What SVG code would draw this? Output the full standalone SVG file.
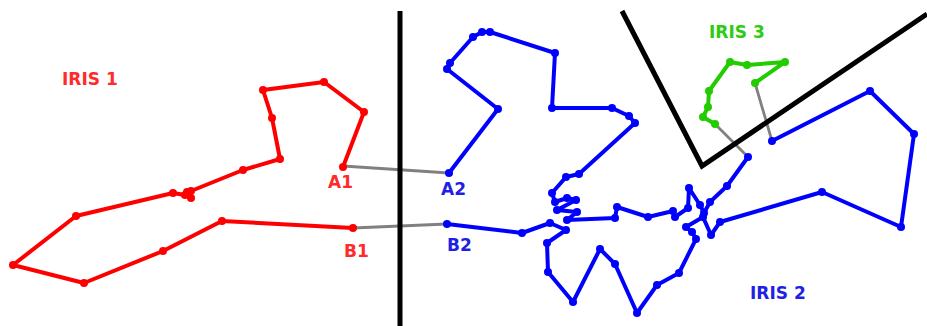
<svg xmlns="http://www.w3.org/2000/svg" width="927" height="326" viewBox="0 0 927 326">
<style>
.bg{fill:#ffffff}
.wall{fill:none;stroke:#000;stroke-width:5;stroke-linejoin:miter}
.red{fill:none;stroke:#ff0000;stroke-width:4;stroke-linejoin:round;stroke-linecap:round}
.blue{fill:none;stroke:#0000ff;stroke-width:4;stroke-linejoin:round;stroke-linecap:round}
.green{fill:none;stroke:#22cc00;stroke-width:4;stroke-linejoin:round;stroke-linecap:round}
.link{fill:none;stroke:#808080;stroke-width:2.8;stroke-linecap:round}
text{font-family:"DejaVu Sans",Verdana,sans-serif;font-weight:bold;font-size:17px}
.tr{fill:#ff2a2a}
.tb{fill:#1f1fe6}
.tg{fill:#2ccc10}
</style>
<defs>
<marker id="dr" markerUnits="userSpaceOnUse" markerWidth="10" markerHeight="10" refX="5" refY="5"><circle cx="5" cy="5" r="4" fill="#ff0000"/></marker>
<marker id="db" markerUnits="userSpaceOnUse" markerWidth="10" markerHeight="10" refX="5" refY="5"><circle cx="5" cy="5" r="4" fill="#0000ff"/></marker>
<marker id="dg" markerUnits="userSpaceOnUse" markerWidth="10" markerHeight="10" refX="5" refY="5"><circle cx="5" cy="5" r="4" fill="#22cc00"/></marker>
</defs>
<rect class="bg" width="927" height="326"/>
<g id="connectors">
<line class="link" x1="343" y1="166" x2="449" y2="173"/>
<line class="link" x1="353" y1="228" x2="447" y2="224"/>
<line class="link" x1="715" y1="124" x2="748" y2="157"/>
<line class="link" x1="755" y1="83" x2="772" y2="141"/>
</g>
<g id="walls">
<polyline class="wall" points="400,11 400,326"/>
<polyline class="wall" points="622,11 702,166 927,14"/>
</g>
<g id="iris1">
<polyline class="red" marker-start="url(#dr)" marker-mid="url(#dr)" marker-end="url(#dr)" points="343,167 364,112 324,82 263,90 272,118 280,159 243,170 191,191 187,192 191,198 185,195 173,193 76,216 13,265 84,283 163,251 222,221 353,228"/>
<text class="tr" x="62" y="85">IRIS 1</text>
<text class="tr" x="328" y="188">A1</text>
<text class="tr" x="344" y="257">B1</text>
</g>
<g id="iris2">
<polyline class="blue" marker-start="url(#db)" marker-mid="url(#db)" marker-end="url(#db)" points="449,173 498,109 447,69 450,63 473,37 482,32 490,32 555,53 552,108 612,108 629,116 635,123 579,174 566,177 552,193 555,202 567,198 576,200 557,210 577,212 567,220 615,218 617,207 648,217 673,211 675,217 688,208 689,188 700,205 704,213 710,202 727,186 748,157"/>
<polyline class="blue" marker-start="url(#db)" marker-mid="url(#db)" marker-end="url(#db)" points="447,224 522,233 550,223 566,230 547,243 548,272 573,302 600,249 615,264 637,313 657,285 679,273 696,239 692,232 686,227 703,217 711,235 720,222 822,192 901,227 914,134 870,91 772,141"/>
<text class="tb" x="441" y="195">A2</text>
<text class="tb" x="447" y="251">B2</text>
<text class="tb" x="750" y="299">IRIS 2</text>
</g>
<g id="iris3">
<polyline class="green" marker-start="url(#dg)" marker-mid="url(#dg)" marker-end="url(#dg)" points="755,83 785,62 747,65 730,62 709,91 708,107 703,117 715,124"/>
<text class="tg" x="709" y="38">IRIS 3</text>
</g>
</svg>
